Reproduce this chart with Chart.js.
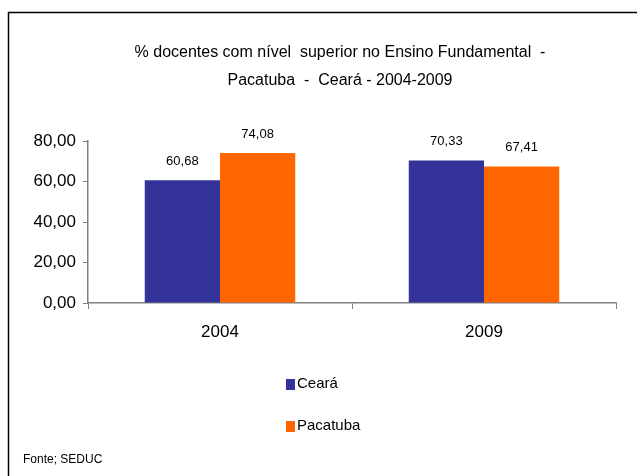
<!DOCTYPE html>
<html>
<head>
<meta charset="utf-8">
<script src="https://cdn.jsdelivr.net/npm/chart.js@4"></script>
<style>
  html, body { margin: 0; padding: 0; background: #fff; }
  #wrap { width: 637px; height: 476px; }
</style>
</head>
<body>
<div id="wrap"><canvas id="chart" width="637" height="476"></canvas></div>
<script>
const years = ['2004', '2009'];
const ceara = [60.68, 70.33];
const pacatuba = [74.08, 67.41];
const titleLines = ['% docentes com nível  superior no Ensino Fundamental  -', 'Pacatuba  -  Ceará - 2004-2009'];
const sourceNote = 'Fonte; SEDUC';

const FONT = "'Liberation Sans', Arial, sans-serif";

function fmt(v) {
    return v.toFixed(2).replace('.', ',');
}

// rótulos de valor, moldura, legenda vertical e fonte
const extras = {
    id: 'extras',
    afterDatasetsDraw(chart) {
        const ctx = chart.ctx;
        ctx.save();
        ctx.fillStyle = '#000';
        ctx.font = '13px ' + FONT;
        ctx.textAlign = 'center';
        ctx.textBaseline = 'middle';
        chart.data.datasets.forEach((ds, i) => {
            chart.getDatasetMeta(i).data.forEach((bar, j) => {
                ctx.fillText(fmt(ds.data[j]), bar.x, bar.y - 19);
            });
        });
        ctx.restore();
    },
    afterDraw(chart) {
        const ctx = chart.ctx;
        ctx.save();
        // moldura
        ctx.strokeStyle = '#000';
        ctx.lineWidth = 1.5;
        ctx.beginPath();
        ctx.moveTo(8.5, 476);
        ctx.lineTo(8.5, 12.5);
        ctx.lineTo(637, 12.5);
        ctx.stroke();

        // legenda
        ctx.font = '15px ' + FONT;
        ctx.textAlign = 'left';
        ctx.textBaseline = 'middle';
        chart.data.datasets.forEach((ds, i) => {
            const y = 384 + i * 42;
            ctx.fillStyle = ds.backgroundColor;
            ctx.fillRect(286, y - 5, 9, 11);
            ctx.fillStyle = '#000';
            ctx.fillText(ds.label, 297, y);
        });

        // fonte
        ctx.font = '12px ' + FONT;
        ctx.fillText(sourceNote, 23, 460);
        ctx.restore();
    }
};

const ctx = document.getElementById('chart').getContext('2d');
new Chart(ctx, {
    type: 'bar',
    data: {
        labels: years,
        datasets: [
            { label: 'Ceará', data: ceara, backgroundColor: '#333399' },
            { label: 'Pacatuba', data: pacatuba, backgroundColor: '#FF6600' }
        ]
    },
    options: {
        responsive: false,
        animation: false,
        devicePixelRatio: 1,
        // padding assimétrico para o título ficar centrado em x≈340
        layout: { padding: { left: 30, right: -13, top: 0, bottom: 123 } },
        datasets: { bar: { categoryPercentage: 0.57, barPercentage: 1 } },
        plugins: {
            legend: { display: false },
            tooltip: { enabled: false },
            title: {
                display: true,
                text: titleLines,
                color: '#000',
                font: { family: FONT, size: 16, weight: 'normal', lineHeight: 1.72 },
                padding: { top: 39, bottom: 47 }
            }
        },
        scales: {
            x: {
                grid: { drawOnChartArea: false, tickLength: 6, color: '#808080' },
                border: { color: '#808080', width: 1.5 },
                ticks: { color: '#000', padding: 13, font: { family: FONT, size: 17 } },
                afterFit(scale) { scale.height = 50; }
            },
            y: {
                min: 0,
                max: 80,
                grid: { drawOnChartArea: false, tickLength: 5, color: '#808080' },
                border: { color: '#808080', width: 1.5 },
                ticks: {
                    stepSize: 20,
                    color: '#000',
                    padding: 7,
                    font: { family: FONT, size: 17 },
                    callback: (v) => fmt(v)
                },
                afterFit(scale) { scale.width = 58; }
            },
            spacer: {
                position: 'right',
                display: true,
                grid: { display: false },
                border: { display: false },
                ticks: { display: false },
                afterFit(scale) { scale.width = 34; }
            }
        }
    },
    plugins: [extras]
});
</script>
</body>
</html>
